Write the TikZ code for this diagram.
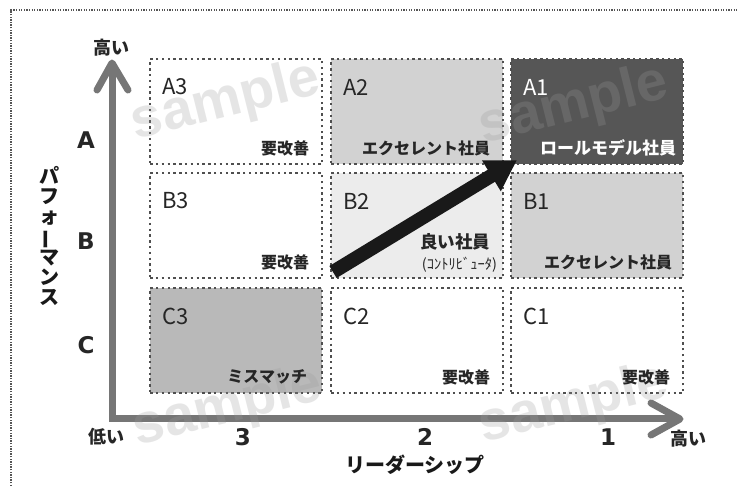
\documentclass[tikz,border=0pt]{standalone}
\usepackage{fontspec}
\usepackage{graphicx}
\usetikzlibrary{arrows.meta,calc}
\newfontfamily\jp{Noto Sans CJK JP}
\newfontfamily\dv{DejaVu Sans}
\newfontfamily\wm{Liberation Sans}
\definecolor{axisgray}{HTML}{767676}
\definecolor{cellborder}{HTML}{4F4F4F}
\definecolor{outerborder}{HTML}{555555}
\definecolor{fillA}{HTML}{565656}
\definecolor{fillB}{HTML}{D2D2D2}
\definecolor{fillC}{HTML}{ECECEC}
\definecolor{fillD}{HTML}{B9B9B9}
\definecolor{wmgray}{HTML}{9A9A9A}
\tikzset{
  cell/.style={draw=cellborder, line width=2.2pt, dash pattern=on 2.4pt off 3.4pt,
    minimum width=172pt, minimum height=105pt, inner sep=0pt, anchor=north west},
  cellname/.style={anchor=west, inner sep=0pt, font=\jp\fontsize{22pt}{24pt}\selectfont, text=black!85},
  celltag/.style={anchor=east, inner sep=0pt, font=\jp\bfseries\fontsize{16pt}{18pt}\selectfont, text=black!85},
  axisline/.style={draw=axisgray, line width=7pt, line join=miter},
  axishead/.style={draw=axisgray, line width=7pt, line cap=round, line join=round},
  grade/.style={inner sep=0pt, font=\dv\bfseries\fontsize{23pt}{25pt}\selectfont, text=black!85},
  axislabel/.style={inner sep=0pt, font=\jp\bfseries\fontsize{18pt}{20pt}\selectfont, text=black!85},
  axistitle/.style={inner sep=0pt, font=\jp\bfseries\fontsize{20pt}{20.3pt}\selectfont, text=black!90},
  watermark/.style={inner sep=0pt, font=\wm\bfseries\fontsize{56pt}{60pt}\selectfont, text=wmgray, opacity=0.25, rotate=14},
  bigarrow/.style={draw=black!90, line width=14pt, -{Triangle[length=30pt,width=34pt]}}
}
\begin{document}
\begin{tikzpicture}[x=1pt,y=-1pt]
\useasboundingbox (0,0) rectangle (737,486);
\fill[white] (0,0) rectangle (737,486);
% outer dotted frame
\coordinate (frbl) at (11,486);
\coordinate (frtl) at (11,10);
\coordinate (frtr) at (737,10);
\draw[outerborder, line width=1.3pt, dash pattern=on 1.3pt off 1.3pt] (frbl) -- (frtl) -- (frtr);

% cells
\node[cell, fill=white] (a3) at (149,58) {};
\node[cell, fill=fillB] (a2) at (330,58) {};
\node[cell, fill=fillA] (a1) at (510,58) {};
\node[cell, fill=white] (b3) at (149,172) {};
\node[cell, fill=fillC] (b2) at (330,172) {};
\node[cell, fill=fillB] (b1) at (510,172) {};
\node[cell, fill=fillD] (c3) at (149,287) {};
\node[cell, fill=white] (c2) at (330,287) {};
\node[cell, fill=white] (c1) at (510,287) {};

% axes
\coordinate (ytip) at (112,63);
\coordinate (origin) at (112,419);
\coordinate (xtip) at (680,419);
\draw[axisline] (ytip) -- (origin) -- (xtip);
\draw[axishead] ($(ytip)+(-15,27)$) -- (ytip) -- ($(ytip)+(16,27)$);
\draw[axishead] ($(xtip)+(-29,-16)$) -- (xtip) -- ($(xtip)+(-29,16)$);

% watermarks
\node[watermark] (wm1) at (226,102) {sample};
\node[watermark] (wm2) at (574,106) {sample};
\node[watermark] (wm3) at (228,408) {sample};
\node[watermark] (wm4) at (574,405) {sample};

% cell names
\node[cellname] (a3n) at ([shift={(13pt,-29pt)}]a3.north west) {A3};
\node[cellname] (a2n) at ([shift={(13pt,-29pt)}]a2.north west) {A2};
\node[cellname, text=white] (a1n) at ([shift={(13pt,-29pt)}]a1.north west) {A1};
\node[cellname] (b3n) at ([shift={(13pt,-29pt)}]b3.north west) {B3};
\node[cellname] (b2n) at ([shift={(13pt,-29pt)}]b2.north west) {B2};
\node[cellname] (b1n) at ([shift={(13pt,-29pt)}]b1.north west) {B1};
\node[cellname] (c3n) at ([shift={(13pt,-29pt)}]c3.north west) {C3};
\node[cellname] (c2n) at ([shift={(13pt,-29pt)}]c2.north west) {C2};
\node[cellname] (c1n) at ([shift={(13pt,-29pt)}]c1.north west) {C1};

% cell tags
\node[celltag] (a3t) at ([shift={(-14pt,17pt)}]a3.south east) {要改善};
\node[celltag] (a2t) at ([shift={(-14pt,17pt)}]a2.south east) {エクセレント社員};
\node[celltag, text=white, font=\jp\bfseries\fontsize{17pt}{18pt}\selectfont] (a1t) at ([shift={(-8pt,17pt)}]a1.south east) {ロールモデル社員};
\node[celltag] (b3t) at ([shift={(-14pt,17pt)}]b3.south east) {要改善};
\node[celltag, font=\jp\bfseries\fontsize{17.5pt}{18pt}\selectfont] (b2t) at ([shift={(-14pt,37pt)}]b2.south east) {良い社員};
\node[celltag, font=\jp\fontsize{14.5pt}{16pt}\selectfont] (b2s) at ([shift={(-7pt,14pt)}]b2.south east) {(ｺﾝﾄﾘﾋﾞｭｰﾀ)};
\node[celltag] (b1t) at ([shift={(-12pt,17pt)}]b1.south east) {エクセレント社員};
\node[celltag] (c3t) at ([shift={(-16pt,17pt)}]c3.south east) {ミスマッチ};
\node[celltag] (c2t) at ([shift={(-14pt,17pt)}]c2.south east) {要改善};
\node[celltag] (c1t) at ([shift={(-14pt,17pt)}]c1.south east) {要改善};

% big arrow
\coordinate (arrstart) at (333,272);
\draw[bigarrow] (arrstart) -- ([shift={(7pt,5pt)}]a1.south west);

% axis labels
\node[axislabel] (yhigh) at (111,48) {高い};
\node[grade] (ga) at (86,140) {A};
\node[grade] (gb) at (86,241) {B};
\node[grade] (gc) at (86,345) {C};
\node[axistitle, align=center] (perf) at (49,236) {パ\\フ\\ォ\\\rotatebox[origin=c]{90}{ー}\\マ\\ン\\ス};
\node[axislabel] (xlow) at (106,437) {低い};
\node[grade] (g3) at (243,437) {3};
\node[grade] (g2) at (425,437) {2};
\node[grade] (g1) at (608,437) {1};
\node[axislabel] (xhigh) at (688,439) {高い};
\node[axistitle] (lead) at (415,465) {リーダーシップ};
\end{tikzpicture}
\end{document}
